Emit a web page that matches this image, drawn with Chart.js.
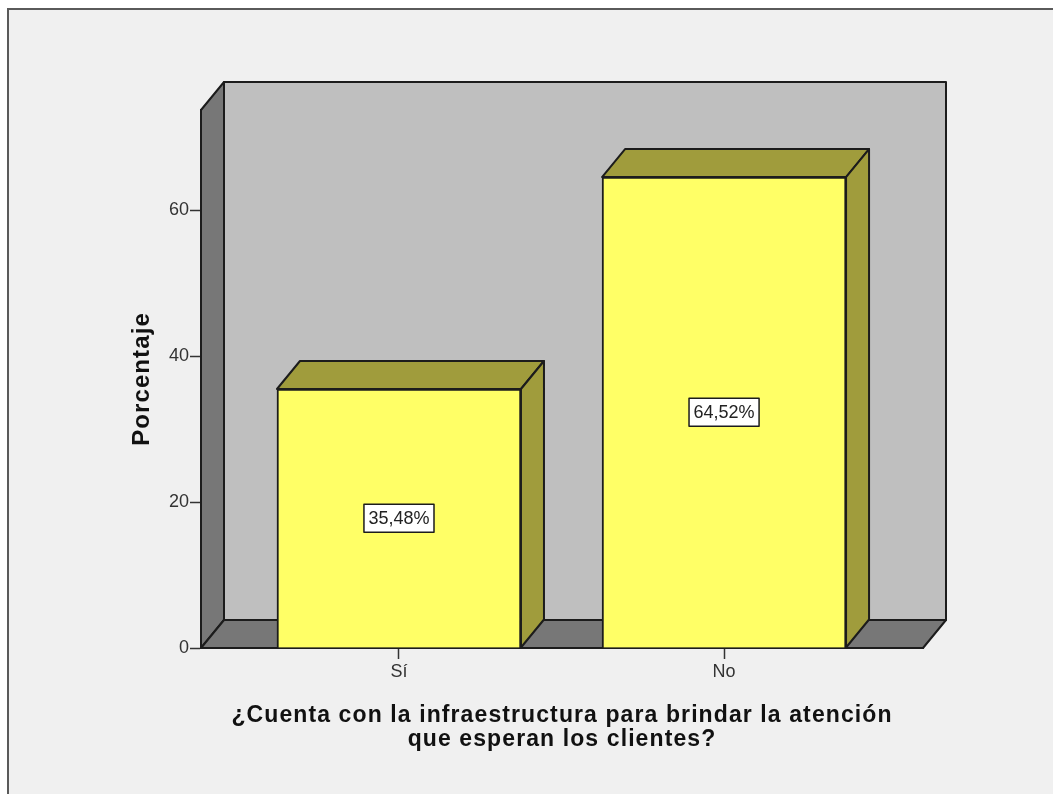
<!DOCTYPE html>
<html>
<head>
<meta charset="utf-8">
<title>Infraestructura</title>
<script src="https://cdn.jsdelivr.net/npm/chart.js@4"></script>
<style>
  html, body { margin: 0; background: #fff; }
  canvas { display: block; }
</style>
</head>
<body>
<canvas id="grafica" width="1053" height="794"></canvas>
<script>
const categorias = ["Sí", "No"];
const porcentajes = [35.48, 64.52];
const marcasY = [0, 20, 40, 60];

// profundidad de la caja 3D, en px
const fondoX = 23;
const fondoY = -28;

const poligono = (ctx, puntos, relleno) => {
    ctx.beginPath();
    puntos.forEach(([x, y], i) => i ? ctx.lineTo(x, y) : ctx.moveTo(x, y));
    ctx.closePath();
    ctx.fillStyle = relleno;
    ctx.fill();
    ctx.stroke();
};

const caja3d = {
    id: "caja3d",
    // marco gris y paredes de la caja
    beforeDraw(chart) {
        const ctx = chart.ctx;
        const { left, right, top, bottom } = chart.chartArea;
        ctx.save();
        ctx.fillStyle = "#f0f0f0";
        ctx.fillRect(8, 9, chart.width, chart.height);
        ctx.strokeStyle = "#5a5a5a";
        ctx.lineWidth = 2;
        ctx.strokeRect(8, 9, chart.width, chart.height);

        ctx.strokeStyle = "#1c1c1c";
        ctx.lineWidth = 2;
        ctx.lineJoin = "round";
        poligono(ctx, [[left + fondoX, top + fondoY], [right + fondoX, top + fondoY],
            [right + fondoX, bottom + fondoY], [left + fondoX, bottom + fondoY]], "#bfbfbf");
        poligono(ctx, [[left, top], [left + fondoX, top + fondoY],
            [left + fondoX, bottom + fondoY], [left, bottom]], "#777777");
        poligono(ctx, [[left, bottom], [left + fondoX, bottom + fondoY],
            [right + fondoX, bottom + fondoY], [right, bottom]], "#777777");
        ctx.restore();
        // los títulos de los ejes se dibujan antes que las barras y van más espaciados
        ctx.letterSpacing = "1.1px";
    },
    // caras superior y lateral de cada barra, y etiqueta con el valor
    afterDatasetsDraw(chart) {
        const ctx = chart.ctx;
        ctx.letterSpacing = "0px";
        ctx.save();
        ctx.strokeStyle = "#1c1c1c";
        ctx.lineWidth = 2;
        ctx.lineJoin = "round";
        chart.getDatasetMeta(0).data.forEach((barra, i) => {
            const izq = barra.x - barra.width / 2;
            const der = barra.x + barra.width / 2;
            poligono(ctx, [[izq, barra.y], [izq + fondoX, barra.y + fondoY],
                [der + fondoX, barra.y + fondoY], [der, barra.y]], "#a09c3c");
            poligono(ctx, [[der, barra.y], [der + fondoX, barra.y + fondoY],
                [der + fondoX, barra.base + fondoY], [der, barra.base]], "#a09c3c");

            const texto = porcentajes[i].toFixed(2).replace(".", ",") + "%";
            ctx.font = "18px 'Liberation Sans'";
            const ancho = ctx.measureText(texto).width + 9;
            const medio = (barra.y + barra.base) / 2;
            ctx.fillStyle = "#ffffff";
            ctx.lineWidth = 1.5;
            ctx.fillRect(barra.x - ancho / 2, medio - 14, ancho, 28);
            ctx.strokeRect(barra.x - ancho / 2, medio - 14, ancho, 28);
            ctx.fillStyle = "#222222";
            ctx.textAlign = "center";
            ctx.textBaseline = "middle";
            ctx.fillText(texto, barra.x, medio + 1);
            ctx.lineWidth = 2;
        });
        ctx.restore();
    }
};

new Chart(document.querySelector("#grafica"), {
    type: "bar",
    data: {
        datasets: [{
            data: porcentajes.map((p, i) => ({ x: i, y: p })),
            backgroundColor: "#ffff66",
            borderColor: "#1c1c1c",
            borderWidth: 2,
            barThickness: 244,
        }]
    },
    options: {
        responsive: false,
        animation: false,
        layout: { padding: { left: 128, right: 130, top: 110, bottom: 42 } },
        plugins: { legend: { display: false }, tooltip: { enabled: false } },
        scales: {
            x: {
                type: "linear",
                offset: false,
                min: -0.609,
                max: 1.612,
                grid: { offset: false, drawOnChartArea: false, tickLength: 11, tickColor: "#333", tickWidth: 1.5 },
                border: { color: "#1c1c1c", width: 2 },
                afterBuildTicks: (eje) => { eje.ticks = categorias.map((_, i) => ({ value: i })); },
                ticks: {
                    z: 1,
                    padding: 2,
                    maxRotation: 0,
                    color: "#333",
                    font: { family: "'Liberation Sans'", size: 18 },
                    callback: (v) => categorias[v],
                },
                title: {
                    display: true,
                    text: ["¿Cuenta con la infraestructura para brindar la atención", "que esperan los clientes?"],
                    color: "#111",
                    font: { family: "'Liberation Sans'", size: 23, weight: "bold", lineHeight: 1.05 },
                    padding: { top: 10, bottom: 0 },
                },
                afterFit: (eje) => { eje.height = 794 - 648 - 42; },
            },
            y: {
                min: 0,
                max: 73.7,
                grid: { drawOnChartArea: false, tickLength: 11, tickColor: "#333", tickWidth: 1.5 },
                border: { color: "#1c1c1c", width: 2 },
                afterBuildTicks: (eje) => { eje.ticks = marcasY.map((v) => ({ value: v })); },
                ticks: {
                    z: 1,
                    padding: 1,
                    color: "#333",
                    font: { family: "'Liberation Sans'", size: 18 },
                },
                title: {
                    display: true,
                    text: "Porcentaje",
                    color: "#111",
                    font: { family: "'Liberation Sans'", size: 24, weight: "bold" },
                    padding: 0,
                },
                afterFit: (eje) => { eje.width = 201 - 128; },
            }
        }
    },
    plugins: [caja3d]
});
</script>
</body>
</html>
